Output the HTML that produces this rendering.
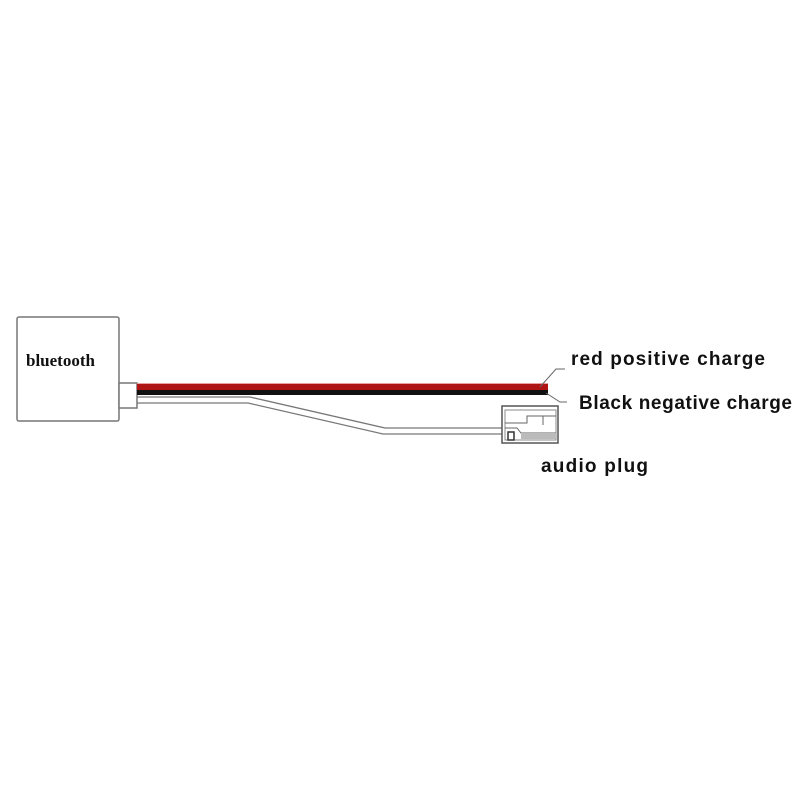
<!DOCTYPE html>
<html><head><style>
body{margin:0;background:#fff;width:800px;height:800px;overflow:hidden}
</style></head><body>
<svg width="800" height="800" xmlns="http://www.w3.org/2000/svg">
<rect x="17" y="317" width="102" height="104" fill="#fff" stroke="#777" stroke-width="1.5" rx="2"/>
<text x="26" y="366" font-family="Liberation Serif, serif" font-weight="bold" font-size="17" fill="#111">bluetooth</text>
<rect x="119" y="383" width="18" height="25" fill="#fff" stroke="#777" stroke-width="1.5"/>
<path d="M137 397 H250 L385 428 H503" fill="none" stroke="#777" stroke-width="1.3"/>
<path d="M137 403 H248 L383 434 H503" fill="none" stroke="#777" stroke-width="1.3"/>
<rect x="137" y="383" width="411" height="1.5" fill="#e8a0a0"/>
<rect x="137" y="384" width="411" height="6" fill="#b01515"/>
<rect x="137" y="390" width="411" height="5" fill="#111"/>
<path d="M540 387 L556 369 H565" fill="none" stroke="#666" stroke-width="1"/>
<path d="M546 393 L560 402 H567" fill="none" stroke="#666" stroke-width="1"/>
<rect x="502" y="406" width="56" height="37" fill="#fff" stroke="#555" stroke-width="1.5"/>
<rect x="505" y="410" width="51" height="30" fill="none" stroke="#888" stroke-width="1"/>
<path d="M505 423 H527 V416 H556" fill="none" stroke="#666" stroke-width="1"/>
<path d="M543 416 V425" stroke="#666" stroke-width="1"/>
<path d="M505 428 H517 L521 433 H556" fill="none" stroke="#666" stroke-width="1"/>
<rect x="521" y="433" width="35" height="6" fill="#bbb"/>
<rect x="508" y="432" width="6" height="8" fill="#fff" stroke="#333" stroke-width="1.5"/>
<g font-family="Liberation Sans, sans-serif" font-weight="bold" font-size="19" fill="#111">
<text x="571" y="365" textLength="194" lengthAdjust="spacing">red positive charge</text>
<text x="579" y="409" textLength="213" lengthAdjust="spacing">Black negative charge</text>
<text x="541" y="472" textLength="107" lengthAdjust="spacing">audio plug</text>
</g>
</svg>
</body></html>
